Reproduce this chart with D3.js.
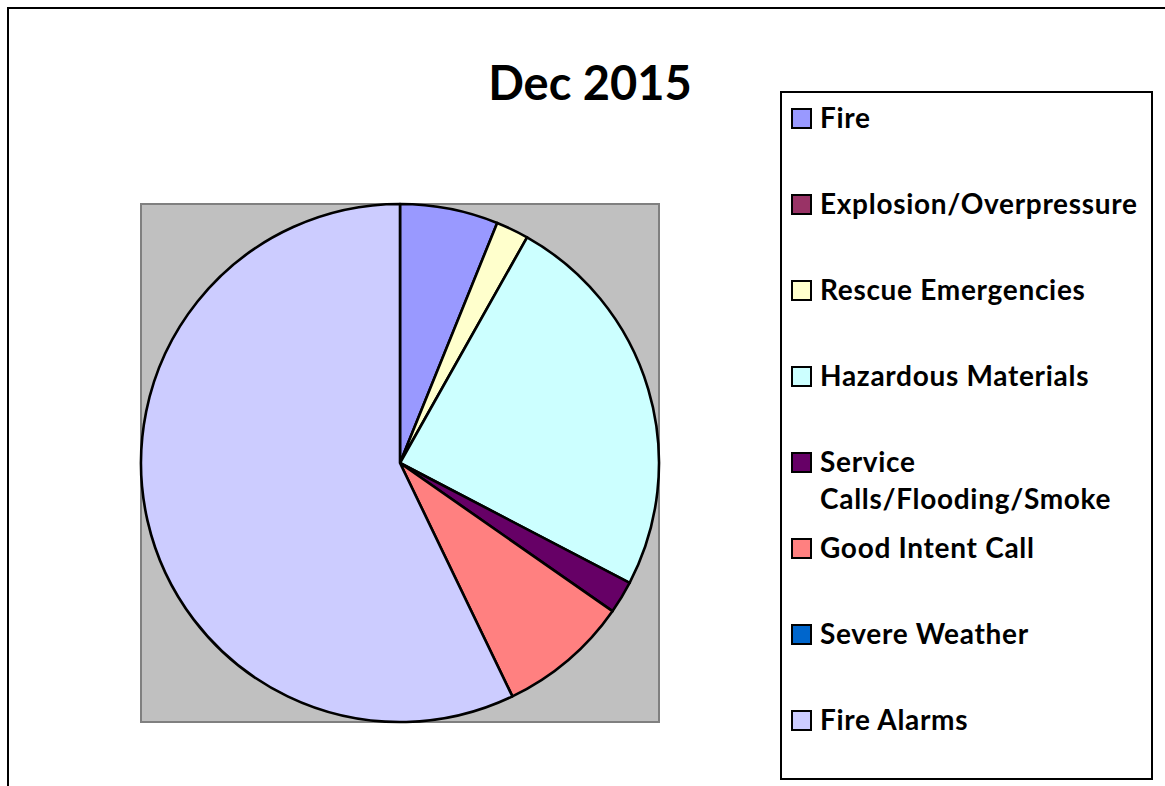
<!DOCTYPE html>
<html>
<head>
<meta charset="utf-8">
<script src="https://cdn.jsdelivr.net/npm/d3@7"></script>
<style>
  body { margin: 0; background: #fff; }
  text { font-family: Lato, "Open Sans", sans-serif; font-weight: bold; }
</style>
</head>
<body>
<div id="chart-area"></div>
<script>
const categories = ["Fire", "Explosion/Overpressure", "Rescue Emergencies", "Hazardous Materials",
                    "Service Calls/Flooding/Smoke", "Good Intent Call", "Severe Weather", "Fire Alarms"];
const counts = [3, 0, 1, 12, 1, 4, 0, 28];
const colors = ["#9999FF", "#993366", "#FFFFCC", "#CCFFFF", "#660066", "#FF8080", "#0066CC", "#CCCCFF"];
// legend labels wrap like the original
const legendLines = [["Fire"], ["Explosion/Overpressure"], ["Rescue Emergencies"], ["Hazardous Materials"],
                     ["Service", "Calls/Flooding/Smoke"], ["Good Intent Call"], ["Severe Weather"], ["Fire Alarms"]];
const title = "Dec 2015";

const W = 1165, H = 786;

const svg = d3.select('#chart-area')
    .append('svg')
    .attr('width', W)
    .attr('height', H);

// outer chart border (top + left visible)
svg.append('rect')
    .attr('x', 8).attr('y', 8)
    .attr('width', W + 20).attr('height', H + 20)
    .attr('fill', 'none')
    .attr('stroke', '#000')
    .attr('stroke-width', 2);

svg.append('text')
    .attr('x', 590).attr('y', 100)
    .attr('text-anchor', 'middle')
    .attr('font-size', 47)
    .text(title);

// plot area
const plot = {x: 141, y: 204, w: 518, h: 518};
svg.append('rect')
    .attr('x', plot.x).attr('y', plot.y)
    .attr('width', plot.w).attr('height', plot.h)
    .attr('fill', '#C0C0C0')
    .attr('stroke', '#808080')
    .attr('stroke-width', 2);

const data = categories.map((c, i) => ({name: c, value: counts[i], color: colors[i]}));

const pie = d3.pie().sort(null).value(d => d.value);
const radius = 259;
const arc = d3.arc().innerRadius(0).outerRadius(radius);

const g = svg.append('g')
    .attr('transform', `translate(${plot.x + plot.w / 2}, ${plot.y + plot.h / 2})`);

g.selectAll('path')
    .data(pie(data).filter(d => d.data.value > 0))
    .enter()
    .append('path')
    .attr('d', arc)
    .attr('fill', d => d.data.color)
    .attr('stroke', '#000')
    .attr('stroke-width', 2.6)
    .attr('stroke-linejoin', 'round');

// legend
const lg = {x: 781, y: 92, w: 371, h: 687};
svg.append('rect')
    .attr('x', lg.x).attr('y', lg.y)
    .attr('width', lg.w).attr('height', lg.h)
    .attr('fill', '#fff')
    .attr('stroke', '#000')
    .attr('stroke-width', 2);

const ly = d3.scalePoint()
    .domain(categories)
    .range([118, 720]);

const items = svg.selectAll('.legend-item')
    .data(data)
    .enter()
    .append('g')
    .attr('class', 'legend-item')
    .attr('transform', d => `translate(0, ${ly(d.name)})`);

items.append('rect')
    .attr('x', 792).attr('y', -9)
    .attr('width', 19).attr('height', 19)
    .attr('fill', d => d.color)
    .attr('stroke', '#000')
    .attr('stroke-width', 2);

items.each(function(d, i) {
    const t = d3.select(this).append('text')
        .attr('x', 820)
        .attr('y', 10)
        .attr('font-size', 28)
        .attr('letter-spacing', 0.7);
    legendLines[i].forEach((line, k) => {
        t.append('tspan')
            .attr('x', 820)
            .attr('dy', k === 0 ? 0 : 37)
            .text(line);
    });
});
</script>
</body>
</html>
